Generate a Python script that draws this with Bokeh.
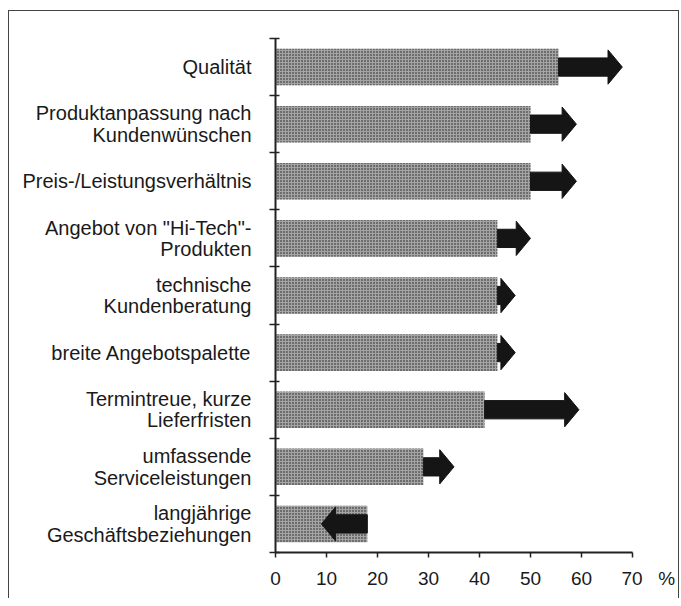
from bokeh.plotting import figure
from bokeh.models import FixedTicker, Range1d, ColumnDataSource
from bokeh.embed import file_html
from bokeh.resources import INLINE

# ---- data ----
categories = [
    "Qualität",
    "Produktanpassung nach\nKundenwünschen",
    "Preis-/Leistungsverhältnis",
    'Angebot von "Hi-Tech"-\nProdukten',
    "technische\nKundenberatung",
    "breite Angebotspalette",
    "Termintreue, kurze\nLieferfristen",
    "umfassende\nServiceleistungen",
    "langjährige\nGeschäftsbeziehungen",
]
current = [55.5, 50, 50, 43.5, 43.5, 43.5, 41, 29, 18]
future = [68, 59, 59, 50, 47, 47, 59.5, 35, 9]
x_ticks = [0, 10, 20, 30, 40, 50, 60, 70]
unit_label = "%"

FONT = "Liberation Sans"
n = len(categories)
centers = [n - i - 0.5 for i in range(n)]
bounds = list(range(n + 1))

# ---- arrows built from data ----
head_len = 2.8
shaft_h = 0.16
head_h = 0.30
xs, ys = [], []
for c, a, b in zip(centers, current, future):
    d = 1 if b >= a else -1
    L = abs(b - a)
    hl = min(head_len, max(L - 0.6, 0.5))
    neck = b - d * hl
    xs.append([a, neck, neck, b, neck, neck, a])
    ys.append([c - shaft_h, c - shaft_h, c - head_h, c, c + head_h, c + shaft_h, c + shaft_h])

bar_src = ColumnDataSource(dict(y=centers, right=current))
arr_src = ColumnDataSource(dict(xs=xs, ys=ys))

p = figure(
    width=671, height=588,
    x_range=Range1d(0, 70), y_range=Range1d(0, n),
    output_backend="svg", toolbar_location=None,
    min_border_left=266, min_border_right=48,
    min_border_top=27, min_border_bottom=47,
)
p.styles = {
    "border-top": "1.5px solid #444",
    "border-left": "1.5px solid #444",
    "border-right": "1.5px solid #444",
    "margin-top": "10px",
    "margin-left": "8px",
}
p.outline_line_color = None
p.xgrid.visible = False
p.ygrid.visible = False

p.hbar(y="y", left=0, right="right", height=0.64, source=bar_src,
       fill_color="#a4a4a4", line_color=None,
       hatch_pattern="dot", hatch_color="#1a1a1a", hatch_scale=3, hatch_weight=1.4)
p.patches(xs="xs", ys="ys", source=arr_src, fill_color="#151515", line_color="#151515")

# y axis
ya = p.yaxis[0]
ya.ticker = FixedTicker(ticks=centers, minor_ticks=bounds)
ya.major_label_overrides = {c: lab for c, lab in zip(centers, categories)}
ya.major_tick_out = 0
ya.major_tick_in = 0
ya.minor_tick_out = 6
ya.minor_tick_in = 4
ya.minor_tick_line_width = 1.5
ya.minor_tick_line_color = "#222"
ya.axis_line_width = 2
ya.axis_line_color = "#222"
ya.major_label_standoff = 18
ya.major_label_text_font = FONT
ya.major_label_text_font_size = "20px"
ya.major_label_text_line_height = 0.97
ya.major_label_text_color = "#1a1a1a"

# x axis (unit sign appended to the last tick label, padded so "70" stays centred)
xa = p.xaxis[0]
xa.ticker = FixedTicker(ticks=x_ticks)
NB = "\u00a0"
last = x_ticks[-1]
xa.major_label_overrides = {last: NB * 6 + str(last) + NB * 3 + unit_label}
xa.major_tick_out = 5
xa.major_tick_in = 0
xa.minor_tick_out = 0
xa.minor_tick_in = 0
xa.major_tick_line_width = 1.5
xa.major_tick_line_color = "#222"
xa.axis_line_width = 2
xa.axis_line_color = "#222"
xa.major_label_standoff = 10
xa.major_label_text_font = FONT
xa.major_label_text_font_size = "19px"
xa.major_label_text_color = "#1a1a1a"

open("out.html", "w").write(file_html(p, INLINE))
